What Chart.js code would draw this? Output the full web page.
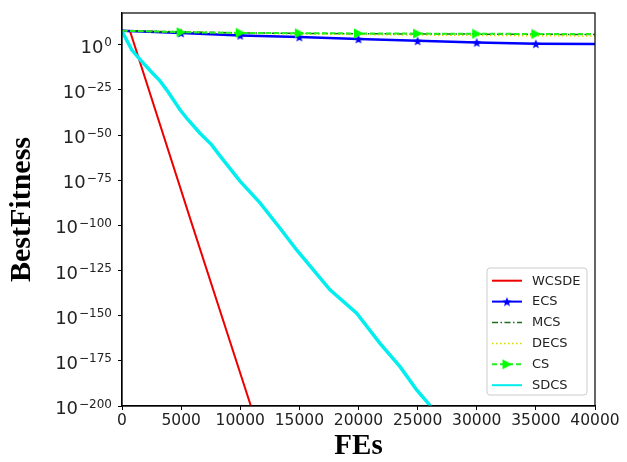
<!DOCTYPE html>
<html><head><meta charset="utf-8">
<script src="https://cdn.jsdelivr.net/npm/chart.js@4.4.1/dist/chart.umd.min.js"></script>
<style>html,body{margin:0;padding:0;background:#fff;}#wrap{width:627px;height:462px;position:relative;}</style>
</head><body><div id="wrap"><canvas id="c" width="627" height="462"></canvas></div>
<script>
// ---- data (y values stored as log10 of BestFitness) ----
const seriesNames = ['WCSDE', 'ECS', 'MCS', 'DECS', 'CS', 'SDCS'];
const xTickValues = [0, 5000, 10000, 15000, 20000, 25000, 30000, 35000, 40000];
const yTickExponents = [0, -25, -50, -75, -100, -125, -150, -175, -200];

const fesWCSDE = [0, 680, 5950, 10900];
const logWCSDE = [7.8, 7.5, -100, -200];

const fesECS = [0, 5000, 10000, 15000, 20000, 25000, 30000, 35000, 40000];
const logECS = [7.8, 6.5, 5.2, 4.3, 3.2, 2.2, 1.3, 0.55, 0.4];

const fesMCS = [0, 5000, 10000, 15000, 20000, 25000, 30000, 35000, 40000];
const logMCS = [7.8, 7.2, 6.6, 6.3, 6.1, 6.0, 5.9, 5.8, 5.7];

const fesDECS = [0, 5000, 10000, 15000, 20000, 25000, 30000, 35000, 40000];
const logDECS = [7.8, 7.0, 6.4, 6.0, 5.7, 5.4, 5.2, 5.0, 4.9];

const fesCS = [0, 5000, 10000, 15000, 20000, 25000, 30000, 35000, 40000];
const logCS = [7.8, 7.0, 6.6, 6.4, 6.3, 6.2, 6.1, 6.0, 5.9];

const fesSDCS = [0, 600, 820, 1665, 2510, 3213, 3890, 4905, 5580, 6596, 7585, 8288, 9979, 11670, 13362, 14770, 17590, 19844, 21818, 23510, 24920, 25900, 26200];
const logSDCS = [7.5, 0, -2.8, -9.2, -15.2, -20, -26, -36, -41.5, -49, -55.4, -61.5, -75.5, -87.5, -101.6, -113.6, -135.7, -148.6, -165.3, -178.2, -191.1, -198.5, -201];

// ---- marker images ----
function makeStar(size, color) {
  const c = document.createElement('canvas'); c.width = size; c.height = size;
  const g = c.getContext('2d'); g.fillStyle = color; g.beginPath();
  for (let i = 0; i < 10; i++) {
    const r = (i % 2) ? size * 0.22 : size * 0.5;
    const a = -Math.PI / 2 + i * Math.PI / 5;
    g.lineTo(size / 2 + r * Math.cos(a), size / 2 + r * Math.sin(a) + size * 0.05);
  }
  g.closePath(); g.fill(); return c;
}
function makeTriRight(size, color) {
  const c = document.createElement('canvas'); c.width = size; c.height = size;
  const g = c.getContext('2d'); g.fillStyle = color; g.beginPath();
  g.moveTo(1, 0.5); g.lineTo(size - 0.5, size / 2); g.lineTo(1, size - 0.5);
  g.closePath(); g.fill(); return c;
}
const starImg = makeStar(10, '#0000ff');
const triImg = makeTriRight(11, '#00ff00');

function pts(fes, logs) { return fes.map((x, i) => ({ x: x, y: Math.pow(10, logs[i]) })); }
const markerAt = (ctx) => {
  const r = ctx.raw; return (r && r.x > 0 && r.x < 40000 && r.x % 5000 === 0) ? 5 : 0;
};

const datasets = [
  { label: seriesNames[0], data: pts(fesWCSDE, logWCSDE), borderColor: '#ee0000', borderWidth: 2, pointRadius: 0, order: 6 },
  { label: seriesNames[1], data: pts(fesECS, logECS), borderColor: '#0000ff', borderWidth: 2.5, pointRadius: markerAt, pointStyle: starImg, order: 5 },
  { label: seriesNames[2], data: pts(fesMCS, logMCS), borderColor: '#1f6b1f', borderWidth: 1.5, borderDash: [6, 2.5, 1.5, 2.5], pointRadius: 0, order: 4 },
  { label: seriesNames[3], data: pts(fesDECS, logDECS), borderColor: '#d8d800', borderWidth: 1.5, borderDash: [1.5, 2.5], pointRadius: 0, order: 3 },
  { label: seriesNames[4], data: pts(fesCS, logCS), borderColor: '#22ee22', borderWidth: 2, borderDash: [5, 3], pointRadius: markerAt, pointStyle: triImg, order: 2 },
  { label: seriesNames[5], data: pts(fesSDCS, logSDCS), borderColor: '#00eeee', borderWidth: 3.5, pointRadius: 0, order: 1 }
];
datasets.forEach(d => { d.fill = false; d.tension = 0; d.clip = 0; d.pointBackgroundColor = d.borderColor; });

const PLOT = { left: 122, right: 595, top: 13, bottom: 406 };

const extras = {
  id: 'extras',
  afterDraw(chart) {
    const ctx = chart.ctx, a = chart.chartArea, ys = chart.scales.y;
    ctx.save();
    // frame (all four spines)
    ctx.strokeStyle = '#000'; ctx.lineWidth = 1.2;
    ctx.strokeRect(a.left, a.top, a.right - a.left, a.bottom - a.top);
    // y tick labels as 10^exp
    ctx.fillStyle = '#222'; ctx.textBaseline = 'alphabetic';
    yTickExponents.forEach(e => {
      const y = ys.getPixelForValue(Math.pow(10, e));
      const exp = (e < 0 ? '\u2212' : '') + Math.abs(e);
      ctx.font = '12px "DejaVu Sans"';
      const w2 = ctx.measureText(exp).width;
      ctx.font = '18px "DejaVu Sans"';
      const w1 = ctx.measureText('10').width;
      const xr = 112;
      ctx.textAlign = 'left';
      ctx.fillText('10', xr - w2 - w1 - 1, y + 8);
      ctx.font = '12px "DejaVu Sans"';
      ctx.fillText(exp, xr - w2, y + 1.5);
    });
    // legend
    const lx = 487, ly = 268, lw = 100, lh = 127;
    ctx.fillStyle = 'rgba(255,255,255,0.85)';
    ctx.strokeStyle = '#cccccc'; ctx.lineWidth = 1;
    ctx.beginPath();
    if (ctx.roundRect) ctx.roundRect(lx, ly, lw, lh, 3); else ctx.rect(lx, ly, lw, lh);
    ctx.fill(); ctx.stroke();
    chart.data.datasets.forEach((d, i) => {
      const y = 280.7 + i * 20.9;
      ctx.save();
      ctx.strokeStyle = d.borderColor; ctx.lineWidth = Math.min(d.borderWidth, 2);
      ctx.setLineDash(d.borderDash || []);
      ctx.beginPath(); ctx.moveTo(492, y); ctx.lineTo(522, y); ctx.stroke();
      ctx.restore();
      if (d.pointStyle && typeof d.pointStyle === 'object') {
        ctx.drawImage(d.pointStyle, 507 - d.pointStyle.width / 2, y - d.pointStyle.height / 2);
      }
      ctx.fillStyle = '#222'; ctx.font = '13px "DejaVu Sans"';
      ctx.textAlign = 'left'; ctx.textBaseline = 'middle';
      ctx.fillText(d.label, 532, y + 0.5);
    });
    ctx.restore();
  }
};

new Chart(document.getElementById('c'), {
  type: 'line',
  data: { datasets: datasets },
  options: {
    responsive: false, animation: false, devicePixelRatio: 1,
    layout: { padding: { left: 0, right: 627 - PLOT.right, top: PLOT.top, bottom: 0 } },
    plugins: { legend: { display: false }, tooltip: { enabled: false } },
    scales: {
      x: {
        type: 'linear', min: 0, max: 40000,
        afterBuildTicks: (s) => { s.ticks = xTickValues.map(v => ({ value: v })); },
        afterFit: (s) => { s.height = 462 - PLOT.bottom; },
        ticks: { color: '#222', font: { family: 'DejaVu Sans', size: 15.5 }, padding: 2, maxRotation: 0, autoSkip: false, callback: (v) => String(v) },
        grid: { drawOnChartArea: false, drawTicks: true, tickLength: 4, color: '#000', tickWidth: 1 },
        border: { color: '#000', width: 1.2 },
        title: { display: true, text: 'FEs', color: '#000', font: { family: 'Liberation Serif', size: 29, weight: 'bold', lineHeight: 1 }, padding: { top: 0, bottom: 1 } }
      },
      y: {
        type: 'logarithmic', min: Math.pow(10, -200), max: Math.pow(10, 17.6),
        afterBuildTicks: (s) => { s.ticks = yTickExponents.map(e => ({ value: Math.pow(10, e) })); },
        afterFit: (s) => { s.width = PLOT.left; },
        ticks: { display: false },
        grid: { drawOnChartArea: false, drawTicks: true, tickLength: 4, color: '#000', tickWidth: 1 },
        border: { color: '#000', width: 1.2 },
        title: { display: true, text: 'BestFitness', color: '#000', font: { family: 'Liberation Serif', size: 30, weight: 'bold', lineHeight: 1 }, padding: { top: 7, bottom: 0 } }
      }
    }
  },
  plugins: [extras]
});
</script>
</body></html>
